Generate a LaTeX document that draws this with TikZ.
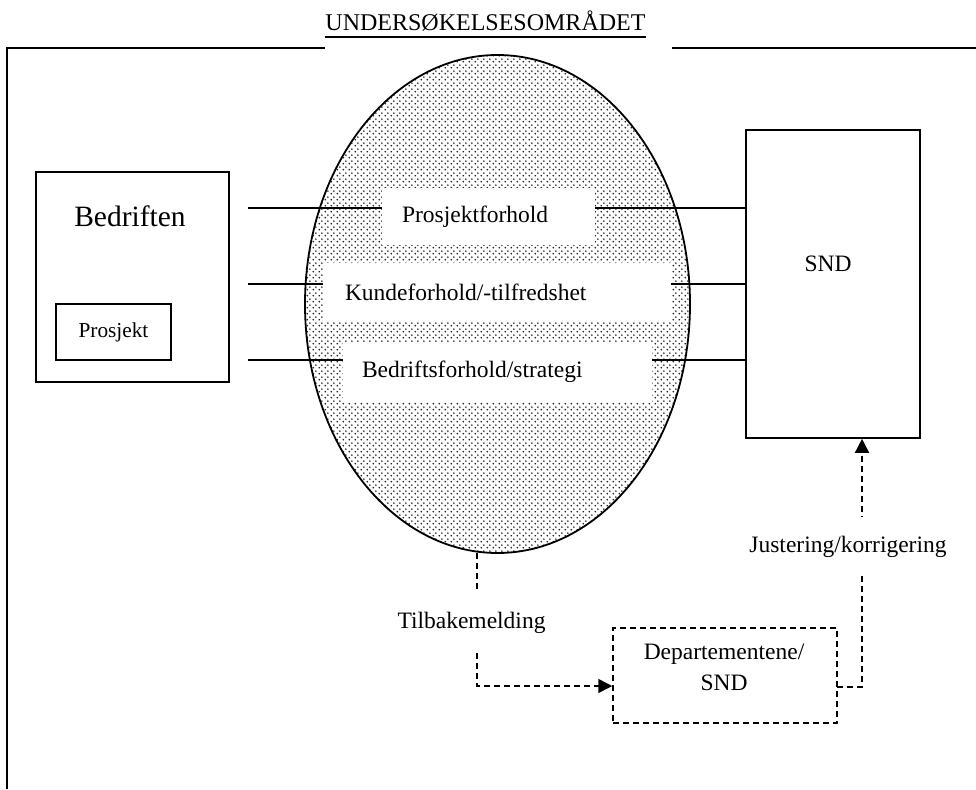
\documentclass[tikz,border=0pt]{standalone}
\usepackage{fontspec}
\setmainfont{Liberation Serif}
\usetikzlibrary{shapes.geometric,arrows.meta,patterns.meta,calc}
\tikzdeclarepattern{name=mydots, type=uncolored,
  bottom left={(0pt,0pt)}, top right={(6pt,6pt)}, tile size={(6pt,6pt)},
  code={\pgfpathcircle{\pgfpoint{1.5pt}{1.5pt}}{1.1pt}\pgfpathcircle{\pgfpoint{4.5pt}{4.5pt}}{1.1pt}\pgfusepath{fill}}}
\tikzset{
  txt/.style={font=\fontsize{23.5}{31}\selectfont, inner sep=0pt},
  solidbox/.style={draw, line width=1.6pt, rectangle, inner sep=0pt},
  dashbox/.style={draw, line width=1.5pt, rectangle, inner sep=0pt, dash pattern=on 6pt off 4pt},
  wbox/.style={fill=white, rectangle, inner ysep=0pt, align=left, font=\fontsize{23.5}{28}\selectfont},
  link/.style={line width=1.5pt},
  dlink/.style={line width=1.5pt, dash pattern=on 6pt off 4pt},
  arr/.style={-{Triangle[length=14pt,width=14pt]}},
  wlabel/.style={fill=white, font=\fontsize{23.5}{28}\selectfont, inner xsep=2pt, inner ysep=19pt}
}
\begin{document}
\begin{tikzpicture}[x=1pt,y=-1pt]
\useasboundingbox (0,0) rectangle (976,789);
% title
\node[anchor=base, inner sep=0pt, font=\fontsize{24}{30}\selectfont] (title) at (485.5,31) {UNDERSØKELSESOMRÅDET};
\draw[line width=2.4pt] ([yshift=-6pt]title.base west) -- ([yshift=-6pt]title.base east);
% frame
\coordinate (f1) at (325,48);
\coordinate (f2) at (7,48);
\coordinate (f3) at (7,789);
\coordinate (f4) at (672,48);
\coordinate (f5) at (976,48);
\draw[line width=1.8pt] (f1) -- (f2) -- (f3);
\draw[line width=1.8pt] (f4) -- (f5);
% ellipse
\node[ellipse, draw, line width=1.8pt, inner sep=0pt, minimum width=385, minimum height=498,
      pattern=mydots, pattern color=black!85] (ell) at (497.5,304) {};
% SND box
\node[solidbox, minimum width=174, minimum height=308] (snd) at (833,284) {};
\node[txt, anchor=base] (sndtxt) at (828,271) {SND};
% horizontal lines
\coordinate (l1) at (248,208);
\coordinate (l2) at (248,284);
\coordinate (l3) at (248,360);
\draw[link] (l1) -- (l1 -| snd.west);
\draw[link] (l2) -- (l2 -| snd.west);
\draw[link] (l3) -- (l3 -| snd.west);
% white label boxes
\node[wbox, inner xsep=20pt, text width=173pt, minimum height=57] (pf) at (488.5,216.5) {Prosjektforhold};
\node[wbox, inner xsep=22pt, text width=304pt, minimum height=59] (kf) at (497,292.5) {Kundeforhold/-tilfredshet};
\node[wbox, inner xsep=19pt, text width=271pt, minimum height=60] (bf) at (497.5,372) {Bedriftsforhold/strategi};
% Bedriften
\node[solidbox, minimum width=193, minimum height=210] (bed) at (132.5,277) {};
\node[anchor=base, inner sep=0pt, font=\fontsize{29.5}{34}\selectfont] (bedtxt) at (130,226) {Bedriften};
\node[solidbox, minimum width=115, minimum height=56, font=\fontsize{21.3}{26}\selectfont] (pro) at (113.5,332) {Prosjekt};
% Departementene box
\node[dashbox, minimum width=224, minimum height=95] (dep) at (725,675.5) {};
\node[txt, align=center] (deptxt) at (724,667.5) {Departementene/\\SND};
% feedback connector
\coordinate (fb0) at (477,553);
\coordinate (fb1) at (477,686);
\draw[dlink, arr] (fb0) -- (fb1) -- (fb1 -| dep.west);
\node[wlabel, anchor=base] (tb) at (471.5,628) {Tilbakemelding};
% adjustment connector
\coordinate (jk0) at (837,687);
\coordinate (jk1) at (862,687);
\draw[dlink, arr] (jk0) -- (jk1) -- (jk1 |- snd.south);
\node[wlabel, anchor=base] (jk) at (848,552) {Justering/korrigering};
\end{tikzpicture}
\end{document}
